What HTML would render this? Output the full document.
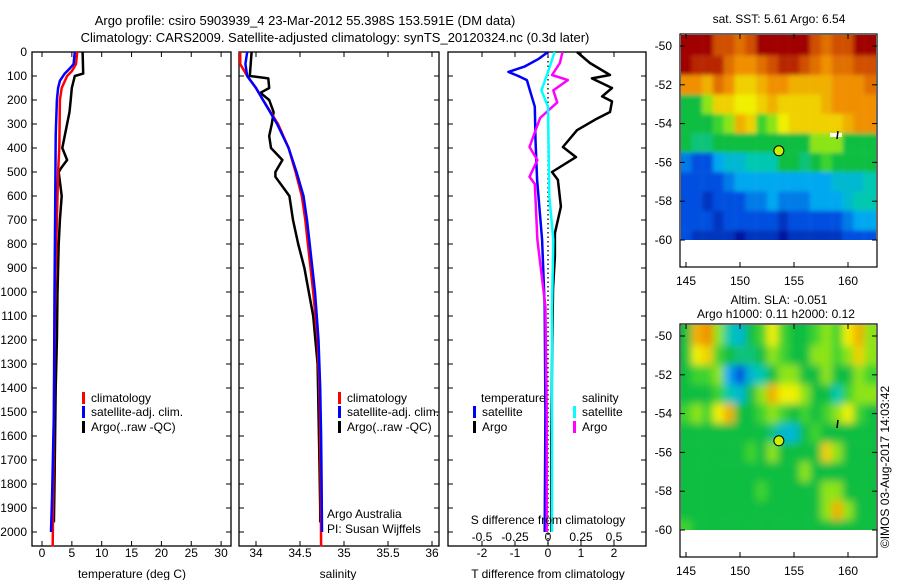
<!DOCTYPE html>
<html><head><meta charset="utf-8"><style>
body{margin:0;background:#fff;}
svg{display:block;font-family:"Liberation Sans",sans-serif;}
text{font-size:12px;fill:#000;}
</style></head>
<body>
<svg id="c" width="900" height="580" viewBox="0 0 900 580">
<defs>
<filter id="blurS" x="-5%" y="-5%" width="110%" height="110%"><feGaussianBlur stdDeviation="2"/></filter>
<filter id="blurL" x="-5%" y="-5%" width="110%" height="110%"><feGaussianBlur stdDeviation="4"/></filter>
</defs>
<text x="305" y="25" text-anchor="middle" style="font-size:13px">Argo profile: csiro 5903939_4 23-Mar-2012 55.398S 153.591E (DM data)</text>
<text x="335" y="42" text-anchor="middle" style="font-size:13px">Climatology: CARS2009. Satellite-adjusted climatology: synTS_20120324.nc (0.3d later)</text>
</svg>
<script>
// ---------- data ----------
const depthTicks=[0,100,200,300,400,500,600,700,800,900,1000,1100,1200,1300,1400,1500,1600,1700,1800,1900,2000];
const tempTicks=[0,5,10,15,20,25,30];
const salTicks=[34,34.5,35,35.5,36];
const tdiffTicks=[-2,-1,0,1,2];
const sdiffTicks=[-0.5,-0.25,0,0.25,0.5];
const sdiffTickLabels=["-0.5","-0.25","0","0.25","0.5"];
const latTicks=[-50,-52,-54,-56,-58,-60];
const lonTicks=[145,150,155,160];

const tClimD=[0,50,80,100,150,200,400,500,700,1000,1500,2060];
const tClimV=[5.9,5.7,5.0,4.2,3.3,3.0,2.9,2.7,2.5,2.2,2.0,1.8];
const tSatD=[0,50,70,90,120,150,200,350,700,1000,1500,1850,2000];
const tSatV=[5.5,5.3,4.6,3.8,3.0,2.7,2.5,2.3,2.2,2.1,2.0,1.7,1.5];
const tArgoD=[0,90,100,150,200,250,300,350,400,450,480,500,600,700,800,900,1000,1200,1400,1600,1800,1960];
const tArgoV=[6.8,6.9,5.5,5.0,4.8,4.6,4.2,3.8,3.4,4.2,3.3,2.8,3.3,3.0,2.8,2.7,2.6,2.5,2.3,2.2,2.1,2.0];

const sClimD=[0,50,100,150,200,300,400,500,600,700,800,1000,1200,1400,1600,1800,2060];
const sClimV=[33.82,33.82,33.9,34.0,34.08,34.25,34.37,34.45,34.52,34.56,34.59,34.65,34.7,34.72,34.73,34.735,34.74];
const sSatD=[0,50,100,150,200,300,400,500,600,700,800,1000,1200,1400,1600,1800,2000];
const sSatV=[33.9,33.88,33.9,34.0,34.08,34.24,34.37,34.46,34.54,34.58,34.61,34.67,34.71,34.73,34.74,34.745,34.75];
const sArgoD=[0,100,110,150,170,200,250,300,350,400,450,500,520,560,600,700,800,900,1000,1100,1300,1500,1700,1900,1960];
const sArgoV=[33.95,33.93,34.14,34.15,34.05,34.15,34.2,34.18,34.15,34.17,34.3,34.22,34.22,34.3,34.38,34.42,34.48,34.55,34.6,34.65,34.7,34.71,34.72,34.73,34.73];

const dTSatD=[0,30,60,83,100,117,160,228,367,533,783,1060,1500,2000];
const dTSatV=[0,-0.3,-0.7,-1.2,-0.9,-0.64,-0.55,-0.4,-0.38,-0.33,-0.18,-0.1,-0.08,-0.1];
const dTArgoD=[0,46,96,110,150,185,206,250,278,326,396,438,500,533,644,755,850,990,1300,1600,2000];
const dTArgoV=[0.88,1.27,1.88,1.33,1.94,1.64,1.94,1.88,1.48,0.88,0.45,0.85,0.12,0.3,0.39,0.21,0.21,0.15,0.12,0.1,0.1];
const dSSatD=[0,83,160,228,600,783,1060,1500,2000];
const dSSatV=[0.05,0,-0.05,0,0.01,0.04,0.03,0.03,0.03];
const dSArgoD=[0,46,96,117,160,210,275,350,396,450,520,550,783,1060,1500,2000];
const dSArgoV=[0.11,0.09,0.03,0.15,0.04,0.07,-0.06,-0.11,-0.14,-0.08,-0.14,-0.1,-0.08,-0.02,-0.01,-0.01];

const sstGrid=[
[10,10,10,9,9,8.5,9,10,10,10,10,10,9,8.5,9,9,10,10],
[10,9.5,9.5,9.5,8.5,8,8,8.5,9,9.5,9.5,9,8.5,8,8.5,8.5,9,9],
[8,8,7.5,8.5,8,7,7,7.5,8,8,7.5,7.5,7.5,7.5,8,8,8,8.5],
[5,5,6,7,7,6.5,6.5,7,7.5,7,7,7,7,7.5,8,8,8,8],
[5,5,5,5.5,6,7.5,7,5.5,6,6.5,7,7,7,7,7,7.5,8,8],
[5,4.5,4.5,5,5,5,5,5,5,5,5,5,6,6,6,5,5,5],
[2.5,2,2,3,3.5,3.5,4,4,4,5,5,4.5,5,5.5,5,5,5,5],
[2,2,2,2,2.5,3,3,3,3,3,3,3,3,3,3.5,3.5,3.5,4],
[2,2,1.5,2,2,2,2.5,2.5,3,2.5,2.5,2.5,3,3,3,3.5,4,4],
[2,2,2,1.5,2,2,2,2,2,1.5,2,2,2,2,2,2.5,3,3],
[2,1.5,1.5,1.5,1.5,1,1.5,1.5,1.5,1,1.5,1.5,1.5,1.5,1.5,2,2,2]];
const slaGrid=[
[5,7.5,8,6,4,3.5,5,5.5,6.5,5.5,5,5,5.5,6,5.5,6.5,7.5,6],
[5,6.5,7,5.5,5,4.5,4.5,5,6,5.5,5,5,6,6,5.5,6,7,6],
[5,5.5,5.5,6,3,2,3.5,4,5,6,6,5,5,6,5,5,6,5.5],
[5,5,5,5.5,4,3.5,5,6,7.5,6.5,6.5,6,5,5,4,5.5,6,6],
[5.5,6,5.5,6.5,7.5,5,5,5.5,6,5.5,5,5.5,5,5.5,6,6.5,5.5,5],
[5,5,5,5,5,5,5,5,4.5,3.5,3.5,5,5.5,5,5,5,5,5],
[5,5,5,5,5,5,5.5,5,6,5,5,5,5,7,6,5,5,5],
[5,5,5,5,5,5,5,5,5,5,5,6,5,5,5,5,5,5],
[5,5,5,5,5,5,5,5.5,5,5,5,5,5,6,6,5,5,5],
[5,5,5,5,5,5,5,5,5,5,5,5,5,6,7.5,6,5,5],
[5.5,5,5,5,5,5,5,5,5,5,5,5,5,5,5,5,5,5]];
const argoPos=[153.6,-55.4];

// ---------- helpers ----------
const NS="http://www.w3.org/2000/svg";
const svg=document.getElementById('c');
function mk(tag,attrs,parent){const e=document.createElementNS(NS,tag);for(const k in attrs)e.setAttribute(k,attrs[k]);(parent||svg).appendChild(e);return e;}
function txt(x,y,s,anchor,parent){const e=mk('text',{x:x,y:y,'text-anchor':anchor||'middle'},parent);e.textContent=s;return e;}
const yD=d=>52+d*0.24;
const P1={x0:32,x1:231,fx:v=>42+v*5.97};
const P2={x0:239,x1:439,fx:v=>256+(v-34)*88};
const P3={x0:448,x1:646,fx:v=>548+v*33,fs:v=>548+v*132};
const TOP=52,BOT=546;

function frame(P,name){
  const r=mk('rect',{x:P.x0,y:TOP,width:P.x1-P.x0,height:BOT-TOP,fill:'none',stroke:'#000','stroke-width':1.3});
  
  
}
function depthTicksOn(P,labels){
  depthTicks.forEach(d=>{
    const y=yD(d);
    mk('line',{x1:P.x0,x2:P.x0+5,y1:y,y2:y,stroke:'#000'});
    mk('line',{x1:P.x1,x2:P.x1-5,y1:y,y2:y,stroke:'#000'});
    if(labels){const t=txt(27,y+4,String(d),'end');
      
      }
  });
}
function xTicks(P,ticks,fx,labels,ly){
  ticks.forEach((v,i)=>{
    const x=fx(v);
    mk('line',{x1:x,x2:x,y1:BOT,y2:BOT-5,stroke:'#000'});
    mk('line',{x1:x,x2:x,y1:TOP,y2:TOP+5,stroke:'#000'});
    const t=txt(x,ly,labels?labels[i]:String(v));
    
    
  });
}
function line(D,V,fx,color,name,w){
  const pts=D.map((d,i)=>fx(V[i]).toFixed(1)+','+yD(d).toFixed(1)).join(' ');
  const p=mk('polyline',{points:pts,fill:'none',stroke:color,'stroke-width':w||2.5,'stroke-linejoin':'round'});
  
  
}
function legend(x,y,color,label){
  const g=mk('g',{});
  
  
  mk('rect',{x:x,y:y-10,width:3,height:12,fill:color},g);
  txt(x+9,y,label,'start',g);
}

// ---------- panel 1 ----------
frame(P1,'temperature-panel');
depthTicksOn(P1,true);
xTicks(P1,tempTicks,P1.fx,null,557);
line(tArgoD,tArgoV,P1.fx,'#000','temp-argo-line');
line(tClimD,tClimV,P1.fx,'#f00','temp-climatology-line');
line(tSatD,tSatV,P1.fx,'#00f','temp-satellite-line');
legend(82,402,'#f00','climatology');
legend(82,416,'#00f','satellite-adj. clim.');
legend(82,431,'#000','Argo(..raw -QC)');
let t=txt(132,578,'temperature (deg C)');


// ---------- panel 2 ----------
frame(P2,'salinity-panel');
depthTicksOn(P2,false);
xTicks(P2,salTicks,P2.fx,null,557);
line(sArgoD,sArgoV,P2.fx,'#000','sal-argo-line');
line(sClimD,sClimV,P2.fx,'#f00','sal-climatology-line');
line(sSatD,sSatV,P2.fx,'#00f','sal-satellite-line');
legend(338,402,'#f00','climatology');
legend(338,416,'#00f','satellite-adj. clim.');
legend(338,431,'#000','Argo(..raw -QC)');
t=txt(327,518,'Argo Australia','start');

t=txt(327,533,'PI: Susan Wijffels','start');

t=txt(338,578,'salinity');


// ---------- panel 3 ----------
frame(P3,'difference-panel');
depthTicksOn(P3,false);
xTicks(P3,tdiffTicks,P3.fx,null,557);
sdiffTickLabels.forEach((s,i)=>{const e=txt(P3.fs(sdiffTicks[i]),541,s);
  });
mk('line',{x1:548,x2:548,y1:TOP,y2:BOT,stroke:'#000','stroke-dasharray':'1.5,3','stroke-width':1.3});
line(dTArgoD,dTArgoV,P3.fx,'#000','tdiff-argo-line');
line(dTSatD,dTSatV,P3.fx,'#00f','tdiff-satellite-line');
line(dSArgoD,dSArgoV,P3.fs,'#f0f','sdiff-argo-line');
line(dSSatD,dSSatV,P3.fs,'#0ff','sdiff-satellite-line');
t=txt(481,402,'temperature','start');
t=txt(582,402,'salinity','start');
legend(473,416,'#00f','satellite');
legend(473,431,'#000','Argo');
legend(573,416,'#0ff','satellite');
legend(573,431,'#f0f','Argo');
t=txt(548,524,'S difference from climatology');
t=txt(548,578,'T difference from climatology');

// ---------- maps ----------
const stops=[[1,[0,24,160]],[2,[0,80,224]],[3,[0,168,240]],[4,[0,200,176]],[5,[16,190,64]],[5.7,[80,220,40]],[6.5,[240,240,0]],[7.5,[240,176,0]],[8,[240,144,0]],[9,[208,80,0]],[10,[160,0,0]]];
function cmap(v){
  if(v<=stops[0][0])return 'rgb('+stops[0][1]+')';
  for(let i=1;i<stops.length;i++){if(v<=stops[i][0]){const a=stops[i-1],b=stops[i],f=(v-a[0])/(b[0]-a[0]);
    return 'rgb('+a[1].map((c,k)=>Math.round(c+(b[1][k]-c)*f)).join(',')+')';}}
  return 'rgb('+stops[stops.length-1][1]+')';
}
function drawMap(top,grid,name,blur){
  const fxL=lon=>686+(lon-145)*10.8;
  const fyL=lat=>top+12+(-50-lat)*19.4;
  const g=mk('g',{});
  
  
  const cid='clip'+top;
  const cp=mk('clipPath',{id:cid},g);
  mk('rect',{x:681,y:top+1,width:195,height:fyL(-60)-top-1},cp);
  const outer=mk('g',{'clip-path':'url(#'+cid+')'},g);
  const cells=mk('g',{filter:'url(#'+blur+')'},outer);
  grid.forEach((row,j)=>row.forEach((v,i)=>{
    const lon=144.5+i, lat=-49.5-j;
    const w=(i===row.length-1)?30:10.9;
    const h=(j===0||j===grid.length-1)?30:19.5;
    const y=(j===0)?fyL(lat)-10.5:fyL(lat);
    const x=(i===0)?fxL(lon)-19:fxL(lon);
    const r=mk('rect',{x:x,y:y,width:(i===0?w+19:w),height:h,fill:cmap(v)},cells);
    
    
  }));
  mk('rect',{x:680,y:top,width:197,height:233,fill:'none',stroke:'#000','stroke-width':1.2},g);
  latTicks.forEach(l=>{const y=fyL(l);mk('line',{x1:680,x2:685,y1:y,y2:y,stroke:'#000'},g);mk('line',{x1:877,x2:872,y1:y,y2:y,stroke:'#000'},g);
    const e=txt(672,y+4,String(l),'end',g);});
  lonTicks.forEach(l=>{const x=fxL(l);mk('line',{x1:x,x2:x,y1:top+233,y2:top+228,stroke:'#000'},g);mk('line',{x1:x,x2:x,y1:top,y2:top+5,stroke:'#000'},g);
    const e=txt(x,top+251,String(l),'middle',g);});
  const c=mk('circle',{cx:fxL(argoPos[0]),cy:fyL(argoPos[1]),r:5,fill:'#c8f000',stroke:'#000','stroke-width':1},g);
  
  
}
drawMap(34,sstGrid,'sst-map','blurS');
drawMap(324,slaGrid,'sla-map','blurL');
mk('rect',{x:830,y:133,width:12,height:4,fill:'#fff'});
mk('line',{x1:838,x2:837,y1:131,y2:139,stroke:'#000','stroke-width':1.5});
mk('line',{x1:838,x2:837,y1:420,y2:428,stroke:'#000','stroke-width':1.5});
t=txt(779,23,'sat. SST: 5.61  Argo: 6.54');
t=txt(779,304,'Altim. SLA: -0.051');
t=txt(776,318,'Argo h1000: 0.11 h2000: 0.12');
t=txt(0,0,'©IMOS 03-Aug-2017 14:03:42');t.setAttribute('transform','translate(889,467) rotate(-90)');

</script>
</body></html>
